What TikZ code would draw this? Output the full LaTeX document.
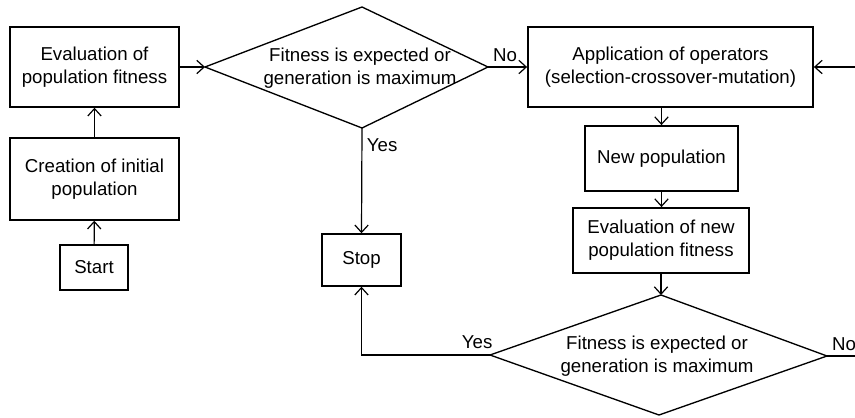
\documentclass[tikz,border=0pt]{standalone}
\usepackage{fontspec}
\setmainfont{Liberation Sans}
\usetikzlibrary{arrows.meta}

\tikzset{
  block/.style={draw, line width=1.1pt, align=center, inner sep=2pt},
  decisiontext/.style={align=center, inner sep=0pt},
  decisionedge/.style={line width=1pt, line join=miter},
  flow/.style={-{Straight Barb[length=5.5pt,width=10pt]}, line width=0.9pt},
}

\begin{document}
\begin{tikzpicture}[x=0.75pt,y=0.75pt,yscale=-1,xscale=1,font=\fontsize{14}{17}\selectfont]
            \useasboundingbox (0,0) rectangle (855,417);
            % left column
            \node[block, minimum width=127pt, minimum height=60pt] (evalpop) at (94.5,67) {Evaluation of\\population fitness};
            \node[block, minimum width=127pt, minimum height=61.5pt] (initpop) at (94.5,179) {Creation of initial\\population};
            \node[block, minimum width=51pt, minimum height=34pt] (start) at (94,267.5) {Start};
            % first test (drawn by its corners)
            \coordinate (test1w) at (205,67);
            \coordinate (test1n) at (362,7);
            \coordinate (test1e) at (488,67);
            \coordinate (test1s) at (362,128);
            \draw[decisionedge] (test1w) -- (test1n) -- (test1e) -- (test1s) -- cycle;
            \node[decisiontext] (test1) at (360,68) {Fitness is expected or\\generation is maximum};
            \node[block, minimum width=59pt, minimum height=39pt] (stop) at (361.5,260) {Stop};
            % right column
            \node[block, minimum width=214pt, minimum height=60pt] (operators) at (670.5,67) {Application of operators\\(selection-crossover-mutation)};
            \node[block, minimum width=115pt, minimum height=49pt] (newpop) at (661.5,158.5) {New population};
            \node[block, minimum width=132pt, minimum height=49pt] (evalnew) at (661,240.5) {Evaluation of new\\population fitness};
            % second test
            \coordinate (test2w) at (490,355);
            \coordinate (test2n) at (661,295);
            \coordinate (test2e) at (827,356);
            \coordinate (test2s) at (659,415);
            \draw[decisionedge] (test2w) -- (test2n) -- (test2e) -- (test2s) -- cycle;
            \node[decisiontext] (test2) at (657,356) {Fitness is expected or\\generation is maximum};
            \coordinate (loopin) at (875,67);
            \coordinate (loopout) at (875,356);
            % connectors
            \draw[flow] (start) -- (initpop);
            \draw[flow] (initpop) -- (evalpop);
            \draw[flow] (evalpop.east) -- (test1w);
            \draw[flow] (test1e) -- node[pos=0, above right] {No} (operators.west);
            \draw[flow] (test1s) -- node[pos=0.16, right] {Yes} (stop.north);
            \draw[flow] (loopin) -- (operators.east);
            \draw[flow] (newpop.north |- operators.south) -- (newpop.north);
            \draw[flow] (newpop) -- (evalnew.north -| newpop.south);
            \draw[flow] (evalnew.south -| test2n) -- (test2n);
            \draw[flow] (test2w) -- node[pos=0.1, above=1pt] {Yes} (stop.south |- test2w) -- (stop.south);
            \draw[line width=0.9pt] (test2e) -- node[pos=0, above right] {No} (loopout);
          \end{tikzpicture}
\end{document}
